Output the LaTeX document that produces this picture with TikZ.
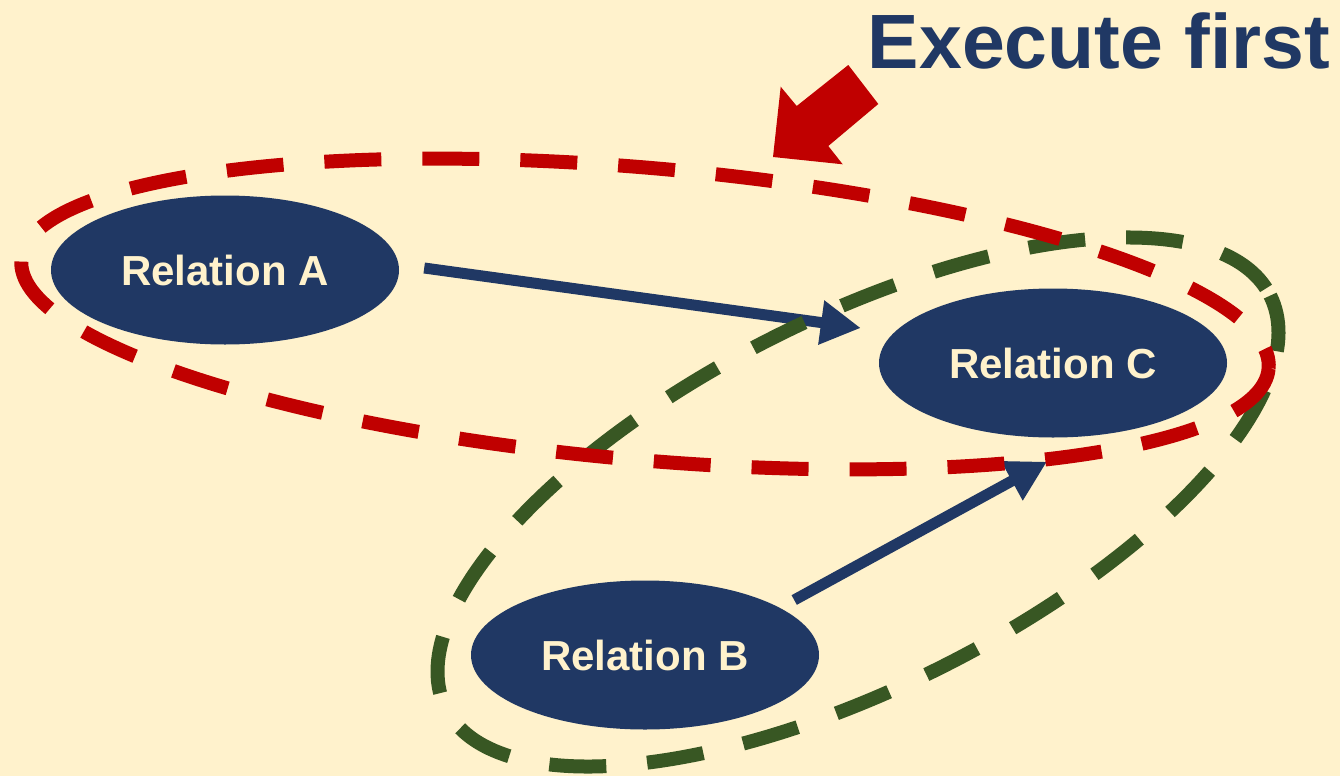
\documentclass[tikz,border=0pt]{standalone}
\usepackage{fontspec}
\setmainfont{Liberation Sans}
\usetikzlibrary{shapes.geometric,arrows.meta}
\definecolor{bg}{HTML}{FFF2CC}
\definecolor{navy}{HTML}{203864}
\definecolor{dred}{HTML}{C00000}
\definecolor{dgreen}{HTML}{385723}
\begin{document}
\begin{tikzpicture}[x=1pt,y=-1pt,
  rel/.style={ellipse, fill=navy, draw=none, minimum width=348pt, minimum height=149pt, inner sep=0pt, text=bg, font=\fontsize{42}{44}\selectfont\bfseries},
  link/.style={draw=navy, line width=11pt, -{Triangle[length=40pt,width=42pt]}},
  grp/.style={line width=14pt, dash pattern=on 57pt off 41pt},
]
\useasboundingbox (0,0) rectangle (1340,776);
\fill[bg] (0,0) rectangle (1340,776);

\node[rel] (A) at (225,270) {Relation A};
\node[rel] (C) at (1053,363) {Relation C};
\node[rel] (B) at (645,655) {Relation B};

\draw[link] ([xshift=25pt,yshift=2pt]A.east) -- ([xshift=-18pt,yshift=35pt]C.west);
\draw[link] ([xshift=-25pt,yshift=55pt]B.east) -- ([xshift=-6pt,yshift=-24pt]C.south);

\draw[grp, draw=dgreen, rotate around={26.6:(858,502)}] (858,502) ellipse [x radius=461, y radius=185];
\draw[grp, draw=dred, rotate around={-5:(645,314)}] (645,314) ellipse [x radius=626, y radius=146];

\fill[dred] (773,157) -- (780.7,86.7) -- (796.7,106) -- (848.3,65) -- (878.3,104) -- (828.3,146) -- (842.7,164.3) -- cycle;

\node[text=navy, font=\fontsize{77}{80}\selectfont\bfseries, anchor=base, inner sep=0pt] (title) at (1099,68) {Execute first};
\end{tikzpicture}
\end{document}
